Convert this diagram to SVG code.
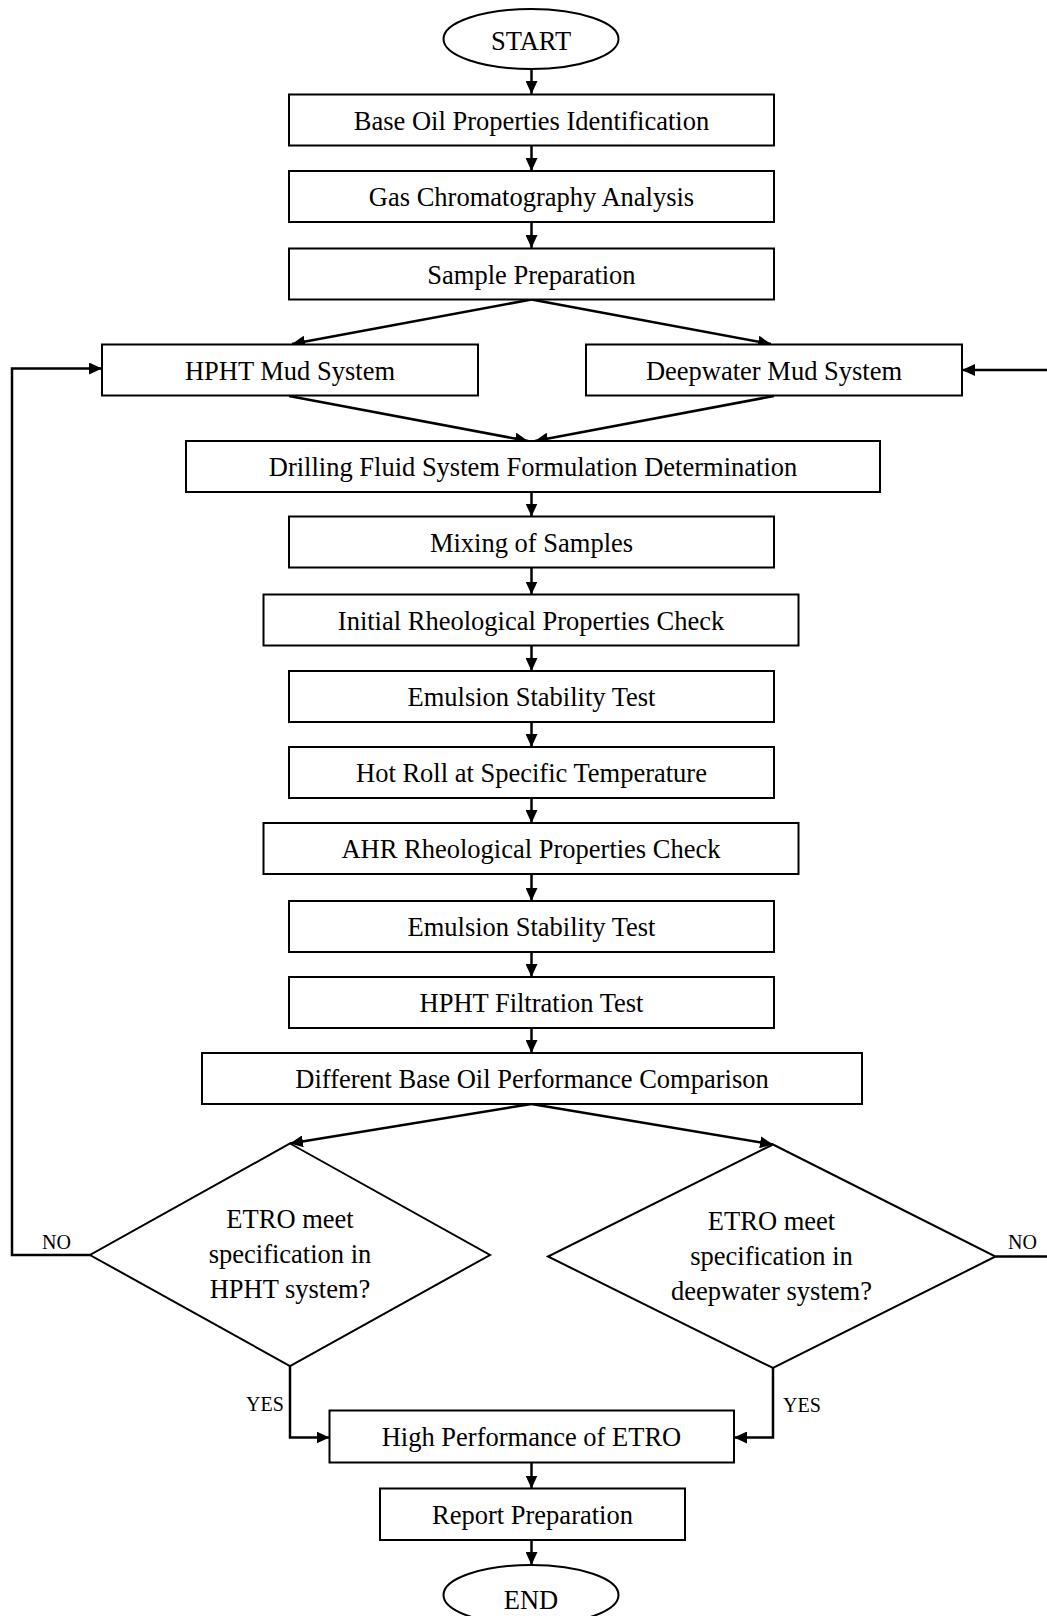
<svg xmlns="http://www.w3.org/2000/svg" width="1047" height="1616" viewBox="0 0 1047 1616">
<defs>
<marker id="ah" markerUnits="userSpaceOnUse" markerWidth="14" markerHeight="12" refX="13" refY="6" orient="auto">
<path d="M0,0 L13,6 L0,12 z" fill="#000"/>
</marker>
<style>
.box{fill:#fff;stroke:#000;stroke-width:2}
.t{font-family:"Liberation Serif","Times New Roman",serif;font-size:26.5px;fill:#000;text-anchor:middle}
.l{font-family:"Liberation Serif","Times New Roman",serif;font-size:20px;fill:#000;text-anchor:middle}
.c{fill:none;stroke:#000;stroke-width:2.5;marker-end:url(#ah)}
</style>
</defs>
<rect width="1047" height="1616" fill="#fff"/>
<g id="connectors">
<line class="c" x1="531.5" y1="69" x2="531.5" y2="94"/>
<line class="c" x1="531.5" y1="146" x2="531.5" y2="171"/>
<line class="c" x1="531.5" y1="222" x2="531.5" y2="248"/>
<line class="c" x1="531.5" y1="299.5" x2="292" y2="344"/>
<line class="c" x1="531.5" y1="299.5" x2="771" y2="344"/>
<line class="c" x1="289" y1="396" x2="528" y2="441"/>
<line class="c" x1="774" y1="396" x2="535" y2="441"/>
<line class="c" x1="531.5" y1="492" x2="531.5" y2="516.5"/>
<line class="c" x1="531.5" y1="567.5" x2="531.5" y2="594.5"/>
<line class="c" x1="531.5" y1="645.5" x2="531.5" y2="671"/>
<line class="c" x1="531.5" y1="722" x2="531.5" y2="747"/>
<line class="c" x1="531.5" y1="798" x2="531.5" y2="823"/>
<line class="c" x1="531.5" y1="874" x2="531.5" y2="901"/>
<line class="c" x1="531.5" y1="952" x2="531.5" y2="977"/>
<line class="c" x1="531.5" y1="1028" x2="531.5" y2="1053"/>
<line class="c" x1="531.5" y1="1104" x2="290" y2="1143.5"/>
<line class="c" x1="531.5" y1="1104" x2="773" y2="1144.5"/>
<polyline class="c" points="290,1366 290,1437.5 329.5,1437.5"/>
<polyline class="c" points="773,1368 773,1437.5 734,1437.5"/>
<line class="c" x1="531.5" y1="1463" x2="531.5" y2="1488.5"/>
<line class="c" x1="531.5" y1="1540" x2="531.5" y2="1565"/>
<polyline class="c" points="90,1255 12,1255 12,368.5 102,368.5"/>
<polyline class="c" points="995.5,1256.5 1056,1256.5 1056,370 962,370"/>
</g>
<g id="start"><ellipse class="box" cx="531" cy="39" rx="87.5" ry="30"/><text class="t" x="531" y="50">START</text></g>
<g id="base-oil"><rect class="box" x="289" y="94.5" width="485" height="51"/><text class="t" x="531.5" y="130">Base Oil Properties Identification</text></g>
<g id="gas-chrom"><rect class="box" x="289" y="171" width="485" height="51"/><text class="t" x="531.5" y="206">Gas Chromatography Analysis</text></g>
<g id="sample-prep"><rect class="box" x="289" y="248.5" width="485" height="51"/><text class="t" x="531.5" y="283.5">Sample Preparation</text></g>
<g id="hpht-mud"><rect class="box" x="102" y="344.5" width="376" height="51"/><text class="t" x="290" y="379.5">HPHT Mud System</text></g>
<g id="deepwater-mud"><rect class="box" x="586" y="344.5" width="376" height="51"/><text class="t" x="774" y="379.5">Deepwater Mud System</text></g>
<g id="drilling"><rect class="box" x="186" y="441" width="694" height="51"/><text class="t" x="533" y="476">Drilling Fluid System Formulation Determination</text></g>
<g id="mixing"><rect class="box" x="289" y="516.5" width="485" height="51"/><text class="t" x="531.5" y="551.5">Mixing of Samples</text></g>
<g id="initial-rheo"><rect class="box" x="263.5" y="594.5" width="535" height="51"/><text class="t" x="531" y="629.5">Initial Rheological Properties Check</text></g>
<g id="emulsion1"><rect class="box" x="289" y="671" width="485" height="51"/><text class="t" x="531.5" y="706">Emulsion Stability Test</text></g>
<g id="hot-roll"><rect class="box" x="289" y="747" width="485" height="51"/><text class="t" x="531.5" y="782">Hot Roll at Specific Temperature</text></g>
<g id="ahr-rheo"><rect class="box" x="263.5" y="823" width="535" height="51"/><text class="t" x="531" y="858">AHR Rheological Properties Check</text></g>
<g id="emulsion2"><rect class="box" x="289" y="901" width="485" height="51"/><text class="t" x="531.5" y="936">Emulsion Stability Test</text></g>
<g id="hpht-filtration"><rect class="box" x="289" y="977" width="485" height="51"/><text class="t" x="531.5" y="1012">HPHT Filtration Test</text></g>
<g id="comparison"><rect class="box" x="202" y="1053" width="660" height="51"/><text class="t" x="532" y="1088">Different Base Oil Performance Comparison</text></g>
<g id="decision-hpht"><polygon class="box" points="290,1143.5 490,1255 290,1366 90,1255"/>
<text class="t" x="290" y="1228">ETRO meet</text><text class="t" x="290" y="1263">specification in</text><text class="t" x="290" y="1298">HPHT system?</text></g>
<g id="decision-deepwater"><polygon class="box" points="773,1144.5 995.5,1256.5 773,1368 548,1256.5"/>
<text class="t" x="771.5" y="1230">ETRO meet</text><text class="t" x="771.5" y="1265">specification in</text><text class="t" x="771.5" y="1300">deepwater system?</text></g>
<g id="high-perf"><rect class="box" x="329.5" y="1410.5" width="404.5" height="52"/><text class="t" x="531.5" y="1446">High Performance of ETRO</text></g>
<g id="report"><rect class="box" x="380" y="1488.5" width="305" height="51.5"/><text class="t" x="532.5" y="1523.5">Report Preparation</text></g>
<g id="end"><ellipse class="box" cx="531" cy="1595" rx="87.5" ry="30"/><text class="t" x="531" y="1609">END</text></g>
<g id="labels">
<text class="l" x="56.5" y="1249">NO</text>
<text class="l" x="1022.5" y="1249">NO</text>
<text class="l" x="265" y="1410.5">YES</text>
<text class="l" x="802" y="1412">YES</text>
</g>
</svg>
